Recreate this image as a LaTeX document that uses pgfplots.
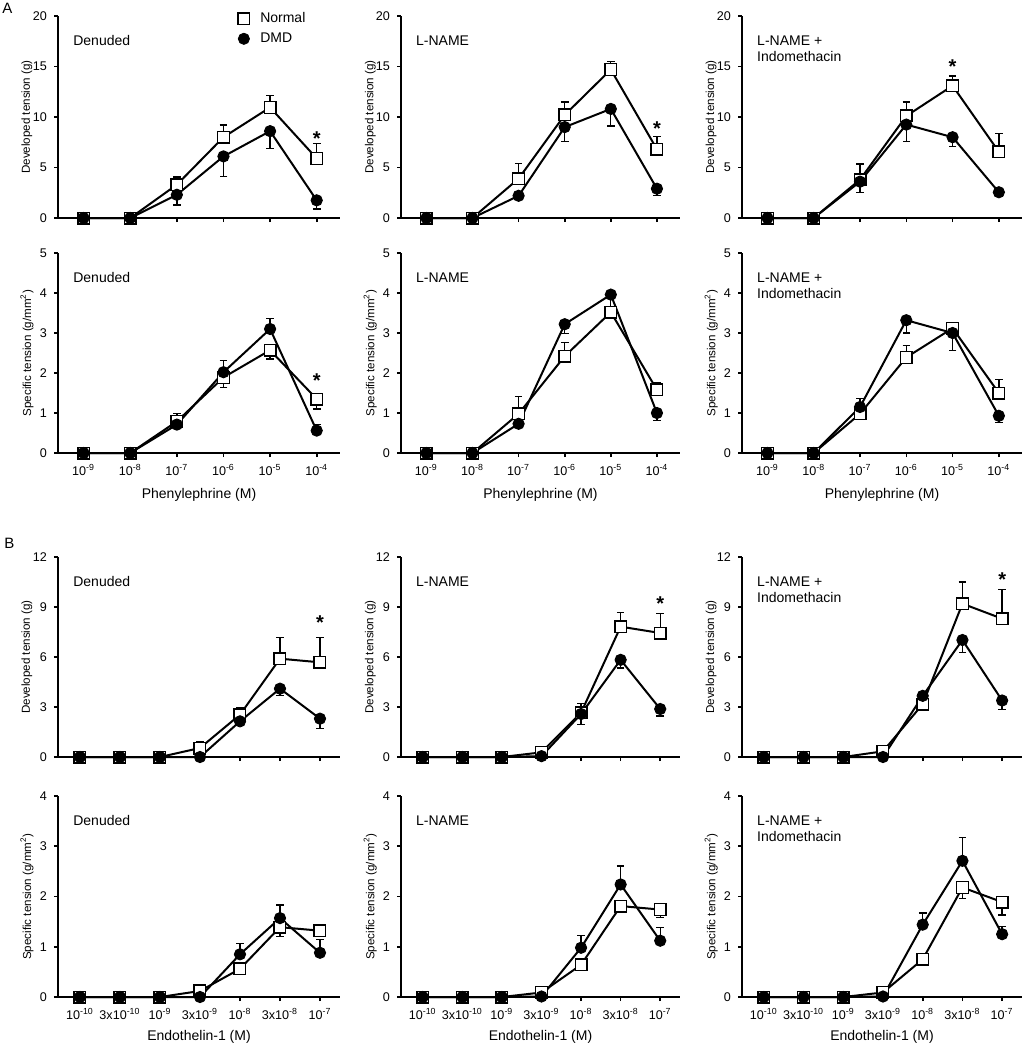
\documentclass[border=0pt]{standalone}
\usepackage{pgfplots}
\pgfplotsset{compat=1.18}
\usepackage{fontspec}
\setmainfont{Liberation Sans}

\pgfplotsset{
  base/.style={
    scale only axis, axis lines=left,
    axis line style={-, line width=0.9pt},
    tick align=outside, major tick length=2pt,
    every tick/.style={black, line width=0.8pt},
    clip=false, ymin=0,
    tick label style={font=\fontsize{6.3}{7.2}\selectfont},
    /pgf/number format/assume math mode=true,
    ylabel style={at={(axis description cs:-0.11,0.5)}, anchor=center, font=\fontsize{5.8}{7}\selectfont},
    xlabel style={at={(axis description cs:0.5,-0.21)}, anchor=center, font=\fontsize{7}{8.4}\selectfont},
  },
  pe/.style={base, xmin=0.45, xmax=6.5, xtick={1,2,3,4,5,6}},
  et/.style={base, xmin=0.45, xmax=7.5, xtick={1,2,3,4,5,6,7}},
  devA/.style={ymax=20, ytick={0,5,10,15,20}, ylabel={Developed tension (g)}, xticklabels={}},
  specA/.style={ymax=5, ytick={0,1,2,3,4,5}, ylabel={Specific tension (g/mm\textsuperscript{2})},
     xticklabels={10\textsuperscript{-9},10\textsuperscript{-8},10\textsuperscript{-7},10\textsuperscript{-6},10\textsuperscript{-5},10\textsuperscript{-4}},
     xlabel={Phenylephrine (M)}},
  devB/.style={ymax=12, ytick={0,3,6,9,12}, ylabel={Developed tension (g)}, xticklabels={}},
  specB/.style={ymax=4, ytick={0,1,2,3,4}, ylabel={Specific tension (g/mm\textsuperscript{2})},
     xticklabels={10\textsuperscript{-10},3x10\textsuperscript{-10},10\textsuperscript{-9},3x10\textsuperscript{-9},10\textsuperscript{-8},3x10\textsuperscript{-8},10\textsuperscript{-7}},
     xlabel={Endothelin-1 (M)}, xlabel style={at={(axis description cs:0.5,-0.2)}}},
  nrm/.style={black, line width=1pt, mark=square*, mark size=2.9pt,
     mark options={solid, fill=white, draw=black, line width=0.7pt},
     error bars/y dir=both, error bars/y explicit,
     error bars/error bar style={line width=0.65pt, black},
     error bars/error mark=-,
     error bars/error mark options={rotate=90, black, mark size=1.9pt, line width=0.65pt}},
  dmd/.style={black, line width=1pt, mark=*, mark size=2.8pt,
     mark options={solid, fill=black, line width=0.5pt},
     error bars/y dir=both, error bars/y explicit,
     error bars/error bar style={line width=0.65pt, black},
     error bars/error mark=-,
     error bars/error mark options={rotate=90, black, mark size=1.9pt, line width=0.65pt}},
  legmark/.style={legend image code/.code={\path (0pt,-2pt) (9pt,2pt); \draw[##1] plot coordinates {(3pt,0pt)};}},
}
\newcommand{\ptitle}[1]{\node[anchor=north west, align=left, inner sep=0pt, font=\fontsize{7}{8}\selectfont] at (rel axis cs:0.053,0.905) {#1};}
\newcommand{\sigstar}[2]{\node[inner sep=0pt, font=\fontsize{10}{10}\selectfont\bfseries, yshift=-2pt] at (axis cs:#1,#2) {*};}

\begin{document}
\begin{tikzpicture}
\useasboundingbox (0,0) rectangle (513pt,-525pt);
\node[anchor=north west, inner sep=0pt, font=\fontsize{7.5}{9}\selectfont] at (1pt,-1.5pt) {A};
\node[anchor=north west, inner sep=0pt, font=\fontsize{7.5}{9}\selectfont] at (2pt,-269pt) {B};

% ---------- Row A1: developed tension ----------
\begin{axis}[pe, devA, at={(29pt,-109pt)}, anchor=south west, width=141pt, height=101pt,
  legend style={at={(0.635,1.04)}, anchor=north west, draw=none, fill=none,
    font=\fontsize{7}{8.4}\selectfont, row sep=-0.5pt, inner sep=0pt, cells={anchor=west}}]
\addlegendimage{only marks, mark=square*, mark size=2.9pt, mark options={fill=white, line width=0.7pt}, legmark}
\addlegendentry{Normal}
\addlegendimage{only marks, mark=*, mark size=2.8pt, legmark}
\addlegendentry{DMD}
\addplot[nrm] coordinates {(1,0) (2,0) (3,3.3) += (0,0.75) (4,8.0) += (0,1.2) (5,10.95) += (0,1.15) (6,5.9) += (0,1.5)};
\addplot[dmd] coordinates {(1,0) (2,0) (3,2.3) -= (0,1.0) (4,6.1) -= (0,2.0) (5,8.6) -= (0,1.7) (6,1.75) -= (0,0.85)};
\ptitle{Denuded}
\sigstar{6}{8.3}
\end{axis}

\begin{axis}[pe, devA, at={(200.5pt,-109pt)}, anchor=south west, width=139.5pt, height=101pt]
\addplot[nrm] coordinates {(1,0) (2,0) (3,3.9) += (0,1.5) (4,10.2) += (0,1.3) (5,14.7) += (0,0.8) (6,6.8) += (0,1.3)};
\addplot[dmd] coordinates {(1,0) (2,0) (3,2.2) (4,9.0) -= (0,1.4) (5,10.8) -= (0,1.7) (6,2.9) -= (0,0.7)};
\ptitle{L-NAME}
\sigstar{6}{9.2}
\end{axis}

\begin{axis}[pe, devA, at={(371pt,-109pt)}, anchor=south west, width=140pt, height=101pt]
\addplot[nrm] coordinates {(1,0) (2,0) (3,3.8) += (0,1.55) (4,10.1) += (0,1.4) (5,13.1) += (0,0.95) (6,6.55) += (0,1.85)};
\addplot[dmd] coordinates {(1,0) (2,0) (3,3.6) -= (0,1.1) (4,9.25) -= (0,1.65) (5,8.0) -= (0,0.9) (6,2.55) -= (0,0.4)};
\ptitle{L-NAME +\\Indomethacin}
\sigstar{5}{15.4}
\end{axis}

% ---------- Row A2: specific tension ----------
\begin{axis}[pe, specA, at={(29pt,-226.5pt)}, anchor=south west, width=141pt, height=100pt]
\addplot[nrm] coordinates {(1,0) (2,0) (3,0.79) += (0,0.19) (4,1.89) -= (0,0.25) (5,2.57) -= (0,0.22) (6,1.35) -= (0,0.25)};
\addplot[dmd] coordinates {(1,0) (2,0) (3,0.71) (4,2.02) += (0,0.3) (5,3.1) += (0,0.27) (6,0.56) += (0,0.16)};
\ptitle{Denuded}
\sigstar{6}{1.92}
\end{axis}

\begin{axis}[pe, specA, at={(200.5pt,-226.5pt)}, anchor=south west, width=139.5pt, height=100pt]
\addplot[nrm] coordinates {(1,0) (2,0) (3,0.98) += (0,0.44) (4,2.42) += (0,0.35) (5,3.52) (6,1.58) += (0,0.19)};
\addplot[dmd] coordinates {(1,0) (2,0) (3,0.73) (4,3.22) -= (0,0.24) (5,3.96) -= (0,0.34) (6,1.0) -= (0,0.19)};
\ptitle{L-NAME}
\end{axis}

\begin{axis}[pe, specA, at={(371pt,-226.5pt)}, anchor=south west, width=140pt, height=100pt]
\addplot[nrm] coordinates {(1,0) (2,0) (3,0.98) (4,2.39) += (0,0.29) (5,3.12) (6,1.5) += (0,0.33)};
\addplot[dmd] coordinates {(1,0) (2,0) (3,1.15) += (0,0.21) (4,3.32) -= (0,0.32) (5,3.0) -= (0,0.43) (6,0.93) -= (0,0.16)};
\ptitle{L-NAME +\\Indomethacin}
\end{axis}

% ---------- Row B1: developed tension ----------
\begin{axis}[et, devB, at={(29pt,-378.5pt)}, anchor=south west, width=141pt, height=100pt]
\addplot[nrm] coordinates {(1,0) (2,0) (3,0) (4,0.54) += (0,0.36) (5,2.54) += (0,0.4) (6,5.9) += (0,1.26) (7,5.68) += (0,1.5)};
\addplot[dmd] coordinates {(1,0) (2,0) (3,0) (4,0) (5,2.14) -= (0,0.2) (6,4.1) -= (0,0.4) (7,2.3) -= (0,0.6)};
\ptitle{Denuded}
\sigstar{7}{8.3}
\end{axis}

\begin{axis}[et, devB, at={(200.5pt,-378.5pt)}, anchor=south west, width=139.5pt, height=100pt]
\addplot[nrm] coordinates {(1,0) (2,0) (3,0) (4,0.28) (5,2.66) += (0,0.54) (6,7.82) += (0,0.85) (7,7.44) += (0,1.17)};
\addplot[dmd] coordinates {(1,0) (2,0) (3,0) (4,0.05) (5,2.58) -= (0,0.62) (6,5.83) -= (0,0.49) (7,2.88) -= (0,0.42)};
\ptitle{L-NAME}
\sigstar{7}{9.46}
\end{axis}

\begin{axis}[et, devB, at={(371pt,-378.5pt)}, anchor=south west, width=140pt, height=100pt]
\addplot[nrm] coordinates {(1,0) (2,0) (3,0) (4,0.34) (5,3.17) (6,9.2) += (0,1.3) (7,8.3) += (0,1.75)};
\addplot[dmd] coordinates {(1,0) (2,0) (3,0) (4,0) (5,3.67) (6,7.02) -= (0,0.74) (7,3.39) -= (0,0.52)};
\ptitle{L-NAME +\\Indomethacin}
\sigstar{7}{10.86}
\end{axis}

% ---------- Row B2: specific tension ----------
\begin{axis}[et, specB, at={(29pt,-498.5pt)}, anchor=south west, width=141pt, height=100.5pt]
\addplot[nrm] coordinates {(1,0) (2,0) (3,0) (4,0.12) (5,0.56) (6,1.39) -= (0,0.19) (7,1.32)};
\addplot[dmd] coordinates {(1,0) (2,0) (3,0) (4,0) (5,0.85) += (0,0.21) (6,1.57) += (0,0.26) (7,0.88) += (0,0.26)};
\ptitle{Denuded}
\end{axis}

\begin{axis}[et, specB, at={(200.5pt,-498.5pt)}, anchor=south west, width=139.5pt, height=100.5pt]
\addplot[nrm] coordinates {(1,0) (2,0) (3,0) (4,0.09) (5,0.64) -= (0,0.1) (6,1.81) -= (0,0.1) (7,1.74) -= (0,0.16)};
\addplot[dmd] coordinates {(1,0) (2,0) (3,0) (4,0.01) (5,0.98) += (0,0.25) (6,2.24) += (0,0.37) (7,1.12) += (0,0.26)};
\ptitle{L-NAME}
\end{axis}

\begin{axis}[et, specB, at={(371pt,-498.5pt)}, anchor=south west, width=140pt, height=100.5pt]
\addplot[nrm] coordinates {(1,0) (2,0) (3,0) (4,0.09) (5,0.75) (6,2.18) -= (0,0.22) (7,1.89) -= (0,0.26)};
\addplot[dmd] coordinates {(1,0) (2,0) (3,0) (4,0.01) (5,1.44) += (0,0.23) (6,2.71) += (0,0.47) (7,1.25) += (0,0.16)};
\ptitle{L-NAME +\\Indomethacin}
\end{axis}
\end{tikzpicture}
\end{document}
